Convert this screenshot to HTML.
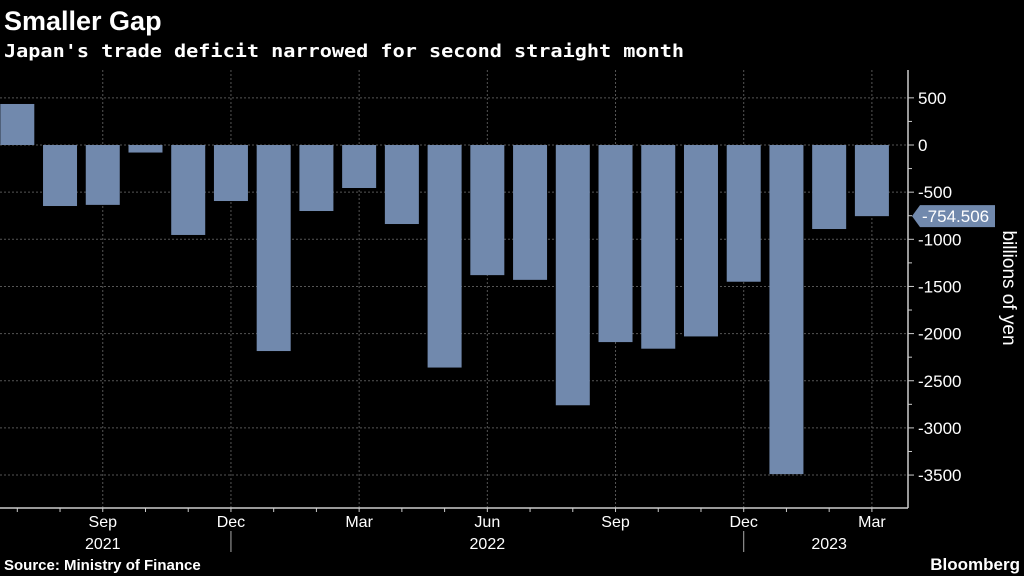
<!DOCTYPE html>
<html><head><meta charset="utf-8"><style>
html,body{margin:0;padding:0;background:#000;width:1024px;height:576px;overflow:hidden}
svg{display:block}
text{font-family:"Liberation Sans",sans-serif}
</style></head><body>
<svg width="1024" height="576" viewBox="0 0 1024 576">
<text x="4" y="30" fill="#fff" font-size="27" font-weight="bold">Smaller Gap</text>
<text x="4" y="57" fill="#fff" font-size="18" font-weight="bold" style="font-family:'DejaVu Sans Mono','Liberation Mono',monospace" textLength="680" lengthAdjust="spacingAndGlyphs">Japan's trade deficit narrowed for second straight month</text>
<g id="grid"></g>
<g id="bars"></g>
<g id="axes"></g>
<text x="0" y="0" fill="#fff" font-size="19" transform="translate(1003,288) rotate(90)" text-anchor="middle">billions of yen</text>
<text x="4" y="570" fill="#fff" font-size="15" font-weight="bold">Source:  Ministry of Finance</text>
<text x="1020" y="570" fill="#fff" font-size="17" font-weight="bold" text-anchor="end">Bloomberg</text>
</svg>
<script>
const months = ["Jul","Aug","Sep","Oct","Nov","Dec","Jan","Feb","Mar","Apr","May","Jun","Jul","Aug","Sep","Oct","Nov","Dec","Jan","Feb","Mar"];
const values = [435,-647,-635,-80,-954,-594,-2185,-700,-456,-838,-2360,-1380,-1430,-2760,-2090,-2160,-2030,-1450,-3490,-891,-754.506];
const yTicks = [500,0,-500,-1000,-1500,-2000,-2500,-3000,-3500];
const xLabels = [[2,"Sep"],[5,"Dec"],[8,"Mar"],[11,"Jun"],[14,"Sep"],[17,"Dec"],[20,"Mar"]];
const years = [[2,"2021"],[11,"2022"],[19,"2023"]];
const yearSeps = [5,17];
const ns="http://www.w3.org/2000/svg";
const x = i => 17.3 + i*42.73;
const y = v => 145 - v*0.0943;
function mk(tag,attrs,parent,txt){const e=document.createElementNS(ns,tag);for(const k in attrs)e.setAttribute(k,attrs[k]);if(txt!==undefined)e.textContent=txt;parent.appendChild(e);return e;}
const grid=document.getElementById('grid'),bars=document.getElementById('bars'),axes=document.getElementById('axes');
yTicks.forEach(t=>{
  const l=mk('line',{x1:0,x2:908,y1:y(t),y2:y(t),stroke:'#555','stroke-dasharray':'2,2','stroke-width':1},grid);
  
  
  const tk=mk('line',{x1:908,x2:914,y1:y(t),y2:y(t),stroke:'#ccc'},axes);
  
  
  const tx=mk('text',{x:918,y:y(t)+6,fill:'#fff','font-size':17},axes,String(t));
  
  
});
for(let k=0;k<yTicks.length-1;k++){const m=(yTicks[k]+yTicks[k+1])/2;const tk=mk('line',{x1:908,x2:912,y1:y(m),y2:y(m),stroke:'#ccc'},axes);
  
  }
xLabels.forEach(([i,s])=>{
  const l=mk('line',{x1:x(i),x2:x(i),y1:70,y2:508,stroke:'#555','stroke-dasharray':'2,2'},grid);
  
  
  const t=mk('text',{x:x(i),y:527,fill:'#fff','font-size':16,'text-anchor':'middle'},axes,s);
  
  
});
values.forEach((v,i)=>{
  const r=mk('rect',{x:x(i)-17,width:34,y:Math.min(y(v),y(0)),height:Math.abs(y(v)-y(0)),fill:'#7189ad'},bars);
  
  
});
const ax=mk('line',{x1:908,x2:908,y1:70,y2:508,stroke:'#ccc','stroke-width':1.5},axes);


const bx=mk('line',{x1:0,x2:908,y1:508,y2:508,stroke:'#ccc','stroke-width':1.5},axes);


months.forEach((m,i)=>{const tk=mk('line',{x1:x(i),x2:x(i),y1:508,y2:512,stroke:'#ccc'},axes);
  
  });
years.forEach(([i,s])=>{const t=mk('text',{x:x(i),y:549,fill:'#fff','font-size':16,'text-anchor':'middle'},axes,s);
  
  });
yearSeps.forEach(i=>{const l=mk('line',{x1:x(i),x2:x(i),y1:531,y2:552,stroke:'#aaa'},axes);
  
  });
const last=values[values.length-1],ly=y(last);
const tag=mk('path',{d:`M912 ${ly} L920 ${ly-11} H995 V${ly+11} H920 Z`,fill:'#7189ad'},axes);


const tt=mk('text',{x:922,y:ly+6,fill:'#fff','font-size':17},axes,last.toFixed(3));


</script>
</body></html>
